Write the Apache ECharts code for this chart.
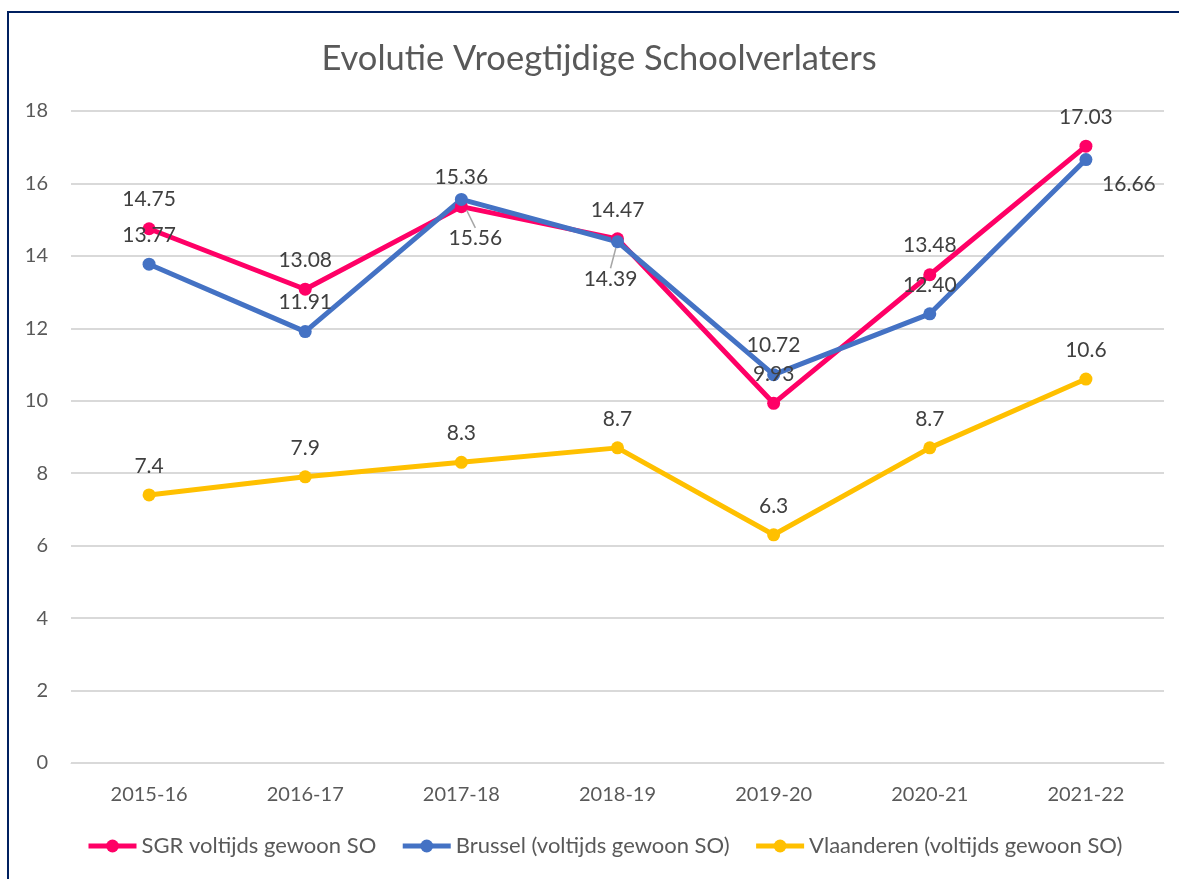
<!DOCTYPE html>
<html>
<head>
<meta charset="utf-8">
<script src="https://cdn.jsdelivr.net/npm/echarts@6/dist/echarts.min.js"></script>
<style>
  html, body { margin: 0; padding: 0; background: #fff; }
  #container { width: 1179px; height: 879px; }
</style>
</head>
<body>
<div id="container"></div>
<script>
var categories = ['2015-16', '2016-17', '2017-18', '2018-19', '2019-20', '2020-21', '2021-22'];
var seriesNames = ['SGR voltijds gewoon SO', 'Brussel (voltijds gewoon SO)', 'Vlaanderen (voltijds gewoon SO)'];
var sgrValues = [14.75, 13.08, 15.36, 14.47, 9.93, 13.48, 17.03];
var brusselValues = [13.77, 11.91, 15.56, 14.39, 10.72, 12.40, 16.66];
var vlaanderenValues = [7.4, 7.9, 8.3, 8.7, 6.3, 8.7, 10.6];

var dom = document.getElementById('container');
var myChart = echarts.init(dom, null, { renderer: 'canvas' });

var textColor = '#595959';
var labelFont = 'Lato, "Open Sans", sans-serif';

// a few labels were dragged by hand in the original
var brusselMoves = {
    2: { dx: 14, dy: 68, line: true },
    3: { dx: -7, dy: 66, line: true },
    6: { dx: 43, dy: 54, line: false }
};

function lineSeries(name, values, color, fmt) {
    return {
        name: name,
        type: 'line',
        data: values,
        symbol: 'circle',
        symbolSize: 13,
        lineStyle: { width: 5, color: color },
        itemStyle: { color: color },
        label: {
            show: true,
            position: 'top',
            distance: 12,
            fontSize: 21,
            fontFamily: labelFont,
            color: '#404040',
            formatter: fmt
        }
    };
}

var option = {
    animation: false,
    title: {
        text: 'Evolutie Vroegtijdige Schoolverlaters',
        left: 594,
        textAlign: 'center',
        top: 36,
        textStyle: { fontSize: 34.5, fontWeight: 'normal', color: textColor, fontFamily: labelFont }
    },
    legend: {
        bottom: 17,
        left: 81,
        itemWidth: 48,
        itemHeight: 16,
        itemGap: 24,
        lineStyle: { width: 5 },
        textStyle: { fontSize: 22, color: textColor, fontFamily: labelFont },
        data: seriesNames
    },
    grid: { left: 71, right: 15, top: 111, bottom: 116 },
    xAxis: {
        type: 'category',
        data: categories,
        axisLine: { show: true, lineStyle: { color: '#d9d9d9', width: 1 } },
        axisTick: { show: false },
        axisLabel: { fontSize: 20, color: textColor, margin: 22, fontFamily: labelFont }
    },
    yAxis: {
        type: 'value',
        min: 0,
        max: 18,
        interval: 2,
        axisLine: { show: false },
        axisTick: { show: false },
        axisLabel: { fontSize: 20, color: textColor, margin: 23, fontFamily: labelFont },
        splitLine: { lineStyle: { color: '#d9d9d9', width: 2 } }
    },
    graphic: [{
        type: 'polyline',
        shape: { points: [[8, 879], [8, 12], [1179, 12]] },
        style: { stroke: '#002060', lineWidth: 2, fill: null },
        z: 100
    }],
    series: [
        lineSeries(seriesNames[0], sgrValues, '#FF0066', function (p) { return p.value.toFixed(2); }),
        lineSeries(seriesNames[1], brusselValues, '#4472C4', function (p) { return p.value.toFixed(2); }),
        lineSeries(seriesNames[2], vlaanderenValues, '#FFC000', function (p) { return String(p.value); })
    ]
};

// leader lines only on the two dragged labels
option.series[1].data = brusselValues.map(function (v, i) {
    var m = brusselMoves[i];
    return {
        value: v,
        labelLine: { show: !!(m && m.line), lineStyle: { color: '#a6a6a6', width: 1.5 } }
    };
});
option.series[1].labelLayout = function (params) {
    var m = brusselMoves[params.dataIndex];
    if (m) return { dx: m.dx, dy: m.dy };
    return {};
};

myChart.setOption(option);
window.addEventListener('resize', myChart.resize);
</script>
</body>
</html>
